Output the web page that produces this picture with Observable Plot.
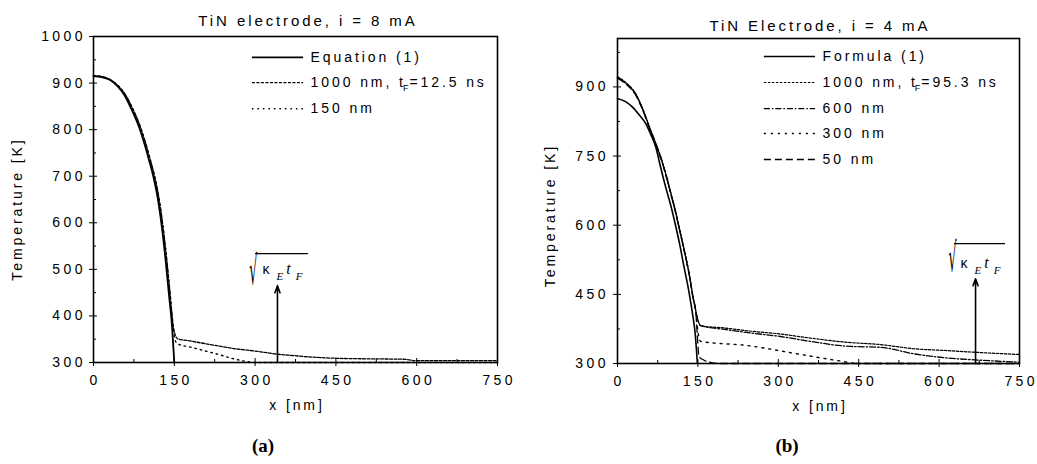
<!DOCTYPE html>
<html><head><meta charset="utf-8">
<script src="https://cdn.jsdelivr.net/npm/d3@7"></script>
<script src="https://cdn.jsdelivr.net/npm/@observablehq/plot@0.6"></script>
<style>
body{margin:0;background:#fff;}
#wrap{position:relative;width:1037px;height:464px;overflow:hidden;background:#fff;}
.cap{position:absolute;top:435px;line-height:22px;font-family:"Liberation Serif","Times New Roman",serif;font-weight:bold;font-size:19px;transform:translateX(-50%);color:#000;}
</style></head><body><div id="wrap"></div>
<script>
// ---------- axes ----------
const xTicks = [0,150,300,450,600,750];
const xMinor = [75,225,375,525,675];
const yTicksA = [300,400,500,600,700,800,900,1000];
const yMinorA = [350,450,550,650,750,850,950];
const yTicksB = [300,450,600,750,900];
const yMinorB = [375,525,675,825,975];

// ---------- panel (a): TiN electrode, i = 8 mA ----------
const eqA_x = [0,15,30,45,57,70,85,95,103,111,118,127,134,140,146,150];
const eqA_T = [915,913,907,893,875,845,804,768,735,700,661,590,518,447,375,300];
const nm1000A_x = [0,15,30,45,58,72,87,97,105,113,120,129,136,142,148,152,156,175,200,230,260,290,310,340,370,400,452,500,575,600,650,700,750];
const nm1000A_T = [916,914,908,895,877,847,806,770,737,702,663,592,520,450,378,358,351,347,342,336,330,326,323,318,315,312,309,308,307,304,304,304,304];
const nm150A_x = [0,15,30,45,58,72,87,97,105,113,120,129,136,142,148,151,156,180,200,230,260,285,300,750];
const nm150A_T = [916,914,908,895,877,847,806,770,737,702,663,592,520,450,378,350,340,333,327,318,308,302,300,300];

// ---------- panel (b): TiN Electrode, i = 4 mA ----------
const formB_x = [0,15,28,40,53,62,71.5,80,90,100,109,117,124,131,137,141,145,149];
const formB_T = [875,868,856,840,820,797,769,728,682,640,596,553,510,470,430,400,364,300];
const nm1000B_x = [0,15,34,48,60,72,83,92,100,108,115,122,129,135,140,146,150,155,200,250,304,360,428,491,553,615,665,750];
const nm1000B_T = [922,910,885,850,812,776,740,704,668,632,596,560,523,487,451,415,395,382,377,370,364,355,346,341,332,328,324.5,319.5];
const nm600B_x = [0,15,34,48,60,72,83,92,100,108,115,122,129,135,140,146,150,155,200,250,304,360,428,491,553,615,665,750];
const nm600B_T = [921,909,884,849,811,775,739,703,667,631,595,559,522,486,450,414,394,382,374,366,358.6,348,337.5,335,321,312,308,303];
const nm300B_x = [0,15,34,48,60,72,83,92,100,108,115,122,129,135,140,146,150,155,242,335,410,450,750];
const nm300B_T = [920,908,883,848,810,774,738,702,666,630,594,558,521,485,449,413,370,348,339,321,306.5,300,300];
const nm50B_x = [0,15,34,48,60,72,83,92,100,108,115,122,129,135,140,146,149,152,160,175,190,750];
const nm50B_T = [919,907,882,847,809,773,737,701,665,629,593,557,520,484,448,412,360,315,308,302,300,300];

const labelsA = ["Equation (1)", "1000 nm, t_F=12.5 ns", "150 nm"];
const labelsB = ["Formula (1)", "1000 nm, t_F=95.3 ns", "600 nm", "300 nm", "50 nm"];

// annotation: arrow marking sqrt(kappa_E t_F)
const arrowA = {x: 341.5, top: 465};
const arrowB = {x: 668, top: 484};

const FONT = "Arial, 'Liberation Sans', Helvetica, sans-serif";
const SERIF = "'Liberation Serif', 'Times New Roman', serif";
const toRows = (xs, Ts) => xs.map((x, i) => ({x, T: Ts[i]}));

// per-character dx list: widens the letter spacing like the original, text stays text
function spacing(n, sp, first) {
  const a = [];
  for (let i = 0; i < n; i++) a.push(i === 0 ? first : sp);
  return a.join(" ");
}

function fixText(svg) {
  d3.select(svg).selectAll("text").each(function () {
    const s = this.textContent;
    const el = d3.select(this);
    if (s === "√") {
      const tr = this.getAttribute("transform");
      if (tr) this.setAttribute("transform", tr + " scale(0.32,1)");
    } else if (s === "κEtF") {
      this.textContent = "";
      el.append("tspan").attr("font-family", FONT).attr("font-size", 14).text("κ");
      el.append("tspan").attr("font-family", SERIF).attr("font-style", "italic").attr("font-size", 11).attr("dy", 6).attr("dx", 7).text("E");
      el.append("tspan").attr("font-family", SERIF).attr("font-style", "italic").attr("font-size", 16).attr("dy", -6).attr("dx", 3).text("t");
      el.append("tspan").attr("font-family", SERIF).attr("font-style", "italic").attr("font-size", 11).attr("dy", 6).attr("dx", 5).text("F");
    } else if (s.includes("_F")) {
      const [a, b] = s.split("_F");
      const sp = 2.9;
      this.textContent = "";
      el.append("tspan").attr("dx", spacing(a.length, sp, 0)).text(a);
      el.append("tspan").attr("font-size", 9).attr("dy", 4).attr("dx", 0).text("F");
      el.append("tspan").attr("dy", -4).attr("dx", spacing(b.length, sp, 1)).text(b);
    } else if (s.length > 1 && this.childElementCount === 0) {
      const sp = /^[0-9]+$/.test(s) ? 3.4 : 2.9;
      const prev = this.getAttribute("dx");
      this.setAttribute("dx", spacing(s.length, sp, prev ? prev : 0));
    }
  });
}

function panel(cfg) {
  const marks = [
    Plot.axisX({ticks: xTicks, tickSize: 4, tickPadding: 9, fontSize: 14, tickFormat: d3.format("d"), label: "x [nm]", labelAnchor: "center", labelArrow: "none", labelOffset: 47}),
    Plot.axisX({ticks: xTicks, tickSize: -4, tickFormat: () => "", label: null}),
    Plot.axisX({ticks: xMinor, tickSize: -3, tickFormat: () => "", label: null}),
    Plot.axisY({ticks: cfg.yTicks, tickSize: 4, tickPadding: cfg.yPad, fontSize: 14, tickFormat: d3.format("d"), label: null}),
    Plot.axisY({ticks: cfg.yTicks, tickSize: -4, tickFormat: () => "", label: null}),
    Plot.axisY({ticks: cfg.yMinor, tickSize: -3, tickFormat: () => "", label: null}),
    Plot.frame({stroke: "black", strokeWidth: 1.6})
  ];
  cfg.series.forEach((s, i) => {
    marks.push(Plot.line(toRows(s.x, s.T), {x: "x", y: "T", stroke: "black", strokeWidth: s.w, strokeDasharray: s.dash, curve: "monotone-x"}));
    const ly = cfg.legendT[i];
    marks.push(Plot.ruleY([ly], {x1: cfg.legendX[0], x2: cfg.legendX[1], stroke: "black", strokeWidth: s.w, strokeDasharray: s.dash}));
    marks.push(Plot.text([s.label], {x: cfg.legendX[1], y: ly, dx: 7, text: d => d, textAnchor: "start", lineAnchor: "middle", fontSize: 14, fill: "black"}));
  });
  const a = cfg.anno, q = cfg.sq;
  marks.push(Plot.arrow([a], {x1: "x", x2: "x", y1: () => 300, y2: "top", stroke: "black", strokeWidth: 1.6, headLength: 7, headAngle: 40}));
  marks.push(Plot.ruleY([a], {y: "top", x1: "x", x2: "x", insetLeft: q.barL, insetRight: -q.barR, dy: q.barDy, stroke: "black", strokeWidth: 1.3}));
  marks.push(Plot.text([a], {x: "x", y: "top", text: () => "√", fontFamily: "DejaVu Sans", fontSize: q.rootSize, textAnchor: "end", lineAnchor: "bottom", dx: q.rootDx, dy: q.rootDy, fill: "black"}));
  marks.push(Plot.text([a], {x: "x", y: "top", text: () => "κEtF", textAnchor: "start", lineAnchor: "middle", dx: -15, dy: q.textDy, fontSize: 14, fill: "black"}));
  marks.push(Plot.text([cfg.title], {frameAnchor: "top", text: d => d, dy: cfg.titleDy, dx: cfg.titleDx, lineAnchor: "middle", fontSize: 15, fill: "black"}));
  marks.push(Plot.text(["Temperature [K]"], {frameAnchor: "left", text: d => d, rotate: -90, dx: cfg.ylabDx, dy: cfg.ylabDy, textAnchor: "middle", lineAnchor: "top", fontSize: 14, fill: "black"}));
  const svg = Plot.plot({
    width: cfg.width, height: 430,
    marginLeft: cfg.ml, marginRight: cfg.mr, marginTop: cfg.mt, marginBottom: cfg.mb,
    x: {domain: [0, 750]},
    y: {domain: cfg.yDomain},
    style: {fontFamily: FONT, fontSize: "14px", color: "black", background: "white", overflow: "visible"},
    marks
  });
  svg.style.position = "absolute";
  svg.style.left = cfg.left + "px";
  svg.style.top = "0px";
  return svg;
}

const wrap = document.getElementById("wrap");
const svgA = panel({
  left: 0, width: 517, ml: 93, mr: 20, mt: 36, mb: 68,
  yDomain: [300, 1000], yTicks: yTicksA, yMinor: yMinorA, yPad: 7,
  title: "TiN electrode, i = 8 mA", titleDx: 11, titleDy: -15,
  ylabDx: -81, ylabDy: 11,
  legendX: [295, 390], legendT: [955, 901, 845],
  anno: arrowA,
  sq: {barL: -22, barR: 31, barDy: -32, rootSize: 40, rootDx: -20, rootDy: -2, textDy: -16.5},
  series: [
    {label: labelsA[0], x: eqA_x, T: eqA_T, w: 1.8, dash: null},
    {label: labelsA[1], x: nm1000A_x, T: nm1000A_T, w: 1.3, dash: "3,1.5"},
    {label: labelsA[2], x: nm150A_x, T: nm150A_T, w: 1.4, dash: "1.5,4"}
  ]
});
const svgB = panel({
  left: 517, width: 520, ml: 100, mr: 18, mt: 38, mb: 67,
  yDomain: [300, 1005], yTicks: yTicksB, yMinor: yMinorB, yPad: 8,
  title: "TiN Electrode, i = 4 mA", titleDx: 0, titleDy: -12.5,
  ylabDx: -72, ylabDy: 16,
  legendX: [274, 369.5], legendT: [966, 909.5, 853, 799, 742.5],
  anno: arrowB,
  sq: {barL: -21, barR: 30, barDy: -35, rootSize: 40, rootDx: -19, rootDy: -8, textDy: -15.5},
  series: [
    {label: labelsB[0], x: formB_x, T: formB_T, w: 1.6, dash: null},
    {label: labelsB[1], x: nm1000B_x, T: nm1000B_T, w: 1.2, dash: "2.5,1.5"},
    {label: labelsB[2], x: nm600B_x, T: nm600B_T, w: 1.3, dash: "6,2,1.5,2"},
    {label: labelsB[3], x: nm300B_x, T: nm300B_T, w: 1.4, dash: "2,5"},
    {label: labelsB[4], x: nm50B_x, T: nm50B_T, w: 1.3, dash: "7,4"}
  ]
});
wrap.appendChild(svgA);
wrap.appendChild(svgB);
fixText(svgA); fixText(svgB);
const capA = document.createElement("div"); capA.className = "cap"; capA.style.left = "263px"; capA.textContent = "(a)";
const capB = document.createElement("div"); capB.className = "cap"; capB.style.left = "787px"; capB.textContent = "(b)";
wrap.appendChild(capA); wrap.appendChild(capB);
</script></body></html>
